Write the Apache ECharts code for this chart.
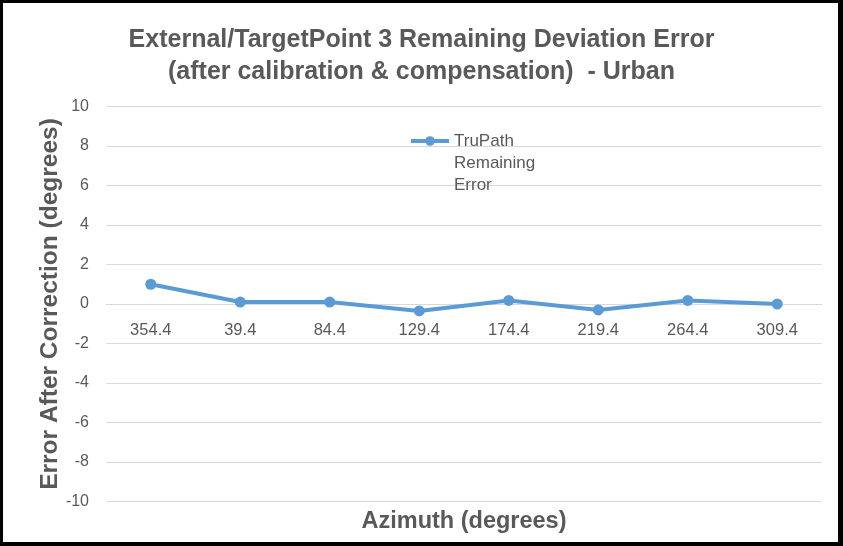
<!DOCTYPE html>
<html>
<head>
<meta charset="utf-8">
<script src="https://cdn.jsdelivr.net/npm/echarts@6/dist/echarts.min.js"></script>
<style>
html,body{margin:0;padding:0;background:#fff;}
#chart{width:843px;height:546px;}
</style>
</head>
<body>
<div id="chart"></div>
<script>
var categories = ['354.4','39.4','84.4','129.4','174.4','219.4','264.4','309.4'];
var remainingError = [1.0, 0.1, 0.1, -0.35, 0.18, -0.3, 0.18, 0.0];
var seriesName = 'TruPath Remaining Error';
var titleLines = ['External/TargetPoint 3 Remaining Deviation Error', '(after calibration & compensation)  - Urban'];
var yAxisName = 'Error After Correction (degrees)';
var xAxisName = 'Azimuth (degrees)';

var FONT = '"Liberation Sans", Arial, sans-serif';
var GRAY = '#595959';
var GRID_TOP = 106.5, GRID_H = 395;
var chart = echarts.init(document.getElementById('chart'), null, {renderer:'canvas'});
chart.setOption({
  backgroundColor: '#ffffff',
  animation: false,
  title: {
    text: titleLines.join('\n'),
    left: 'center',
    top: 19,
    textStyle: {fontFamily: FONT, fontWeight: 'bold', fontSize: 25, color: GRAY, lineHeight: 32}
  },
  legend: {
    data: [seriesName],
    left: 409,
    top: 86,
    padding: 0,
    itemWidth: 38,
    itemHeight: 12,
    itemGap: 6,
    lineStyle: {width: 4},
    formatter: function(){ return '\n\nTruPath\nRemaining\nError'; },
    textStyle: {fontFamily: FONT, fontSize: 17, color: GRAY, lineHeight: 22}
  },
  grid: {left: 106, right: 21, top: GRID_TOP, height: GRID_H, containLabel: false, outerBoundsMode: 'none'},
  xAxis: {
    type: 'category',
    data: categories,
    boundaryGap: true,
    position: 'bottom',
    offset: -GRID_H / 2,
    name: xAxisName,
    nameLocation: 'middle',
    nameGap: 206,
    nameMoveOverlap: false,
    nameTextStyle: {fontFamily: FONT, fontWeight: 'bold', fontSize: 23.5, color: GRAY},
    axisLine: {onZero: false, lineStyle: {color: '#d9d9d9', width: 1}},
    axisTick: {show: false},
    axisLabel: {fontFamily: FONT, fontSize: 16.5, color: GRAY, margin: 18},
    splitLine: {show: false}
  },
  yAxis: {
    type: 'value',
    min: -10, max: 10, interval: 2,
    name: yAxisName,
    nameLocation: 'middle',
    nameGap: 43,
    nameMoveOverlap: false,
    nameTextStyle: {fontFamily: FONT, fontWeight: 'bold', fontSize: 24.5, color: GRAY},
    axisLine: {show: false},
    axisTick: {show: false},
    axisLabel: {fontFamily: FONT, fontSize: 16, color: GRAY, margin: 17},
    splitLine: {lineStyle: {color: '#d9d9d9', width: 1}}
  },
  series: [{
    name: seriesName,
    type: 'line',
    data: remainingError,
    symbol: 'circle',
    symbolSize: 11,
    lineStyle: {color: '#5b9bd5', width: 4},
    itemStyle: {color: '#5b9bd5'},
    z: 3
  }],
  graphic: [
    {type:'rect', shape:{x:0,y:0,width:843,height:3}, style:{fill:'#000'}, z:100},
    {type:'rect', shape:{x:0,y:542,width:843,height:4}, style:{fill:'#000'}, z:100},
    {type:'rect', shape:{x:0,y:0,width:3,height:546}, style:{fill:'#000'}, z:100},
    {type:'rect', shape:{x:838,y:0,width:5,height:546}, style:{fill:'#000'}, z:100}
  ]
});
</script>
</body>
</html>
